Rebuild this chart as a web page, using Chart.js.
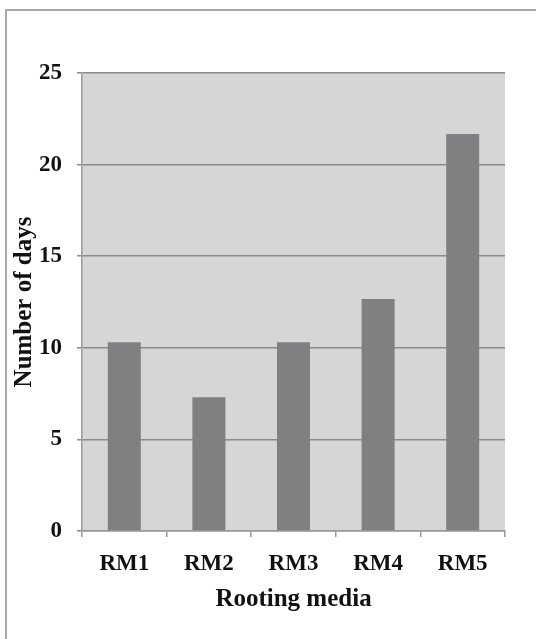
<!DOCTYPE html>
<html>
<head>
<meta charset="utf-8">
<script src="https://cdn.jsdelivr.net/npm/chart.js@4/dist/chart.umd.min.js"></script>
<style>
  html, body { margin: 0; padding: 0; background: #fff; width: 536px; height: 639px; overflow: hidden; }
  #frame { position: absolute; left: 5px; top: 9px; width: 620px; height: 700px; border: 2px solid #a8a8a8; box-sizing: border-box; }
  #wrap { position: absolute; left: 0; top: 0; width: 536px; height: 639px; }
</style>
</head>
<body>
<div id="frame"></div>
<div id="wrap"><canvas id="c" width="536" height="639"></canvas></div>
<script>
const categories = ["RM1", "RM2", "RM3", "RM4", "RM5"];
const daysValues = [10.3, 7.3, 10.3, 12.67, 21.67];
const yTicks = [0, 5, 10, 15, 20, 25];

const plotBg = {
  id: 'plotBg',
  beforeDraw(chart) {
    const {ctx, chartArea: a} = chart;
    ctx.save();
    ctx.fillStyle = '#d6d6d6';
    ctx.fillRect(a.left, a.top, a.right - a.left, a.bottom - a.top);
    ctx.restore();
  }
};

const fam = '"Liberation Serif", "Times New Roman", serif';
const tickFont = { family: fam, size: 23, weight: 'bold' };
const titleFont = { family: fam, size: 25, weight: 'bold' };

new Chart(document.getElementById('c'), {
  type: 'bar',
  data: {
    labels: categories,
    datasets: [{
      data: daysValues,
      backgroundColor: '#808083',
      borderWidth: 0,
      barPercentage: 0.39,
      categoryPercentage: 1.0
    }]
  },
  options: {
    responsive: false,
    animation: false,
    devicePixelRatio: 1,
    layout: { padding: { top: 73, right: 31, bottom: 0, left: 0 } },
    plugins: { legend: { display: false }, tooltip: { enabled: false } },
    scales: {
      x: {
        grid: { display: true, drawOnChartArea: false, offset: true, tickLength: 6, color: '#9a9a9a', lineWidth: 1.5 },
        border: { display: true, color: '#9a9a9a', width: 1.5 },
        ticks: { color: '#111', font: tickFont, padding: 13, maxRotation: 0 },
        title: { display: true, text: 'Rooting media', color: '#111', font: titleFont, padding: { top: 0, bottom: 24 } },
        afterFit(scale) { scale.height = 108; }
      },
      y: {
        min: 0, max: 25,
        afterBuildTicks(scale) { scale.ticks = yTicks.map(v => ({ value: v })); },
        grid: { color: '#8a8a8a', lineWidth: 1.5, tickLength: 5 },
        border: { display: true, color: '#9a9a9a', width: 1.5 },
        ticks: { color: '#111', font: tickFont, padding: 15 },
        title: { display: true, text: 'Number of days', color: '#111', font: titleFont, padding: { top: 10, bottom: 0 } },
        afterFit(scale) { scale.width = 82; }
      }
    }
  },
  plugins: [plotBg]
});
</script>
</body>
</html>
